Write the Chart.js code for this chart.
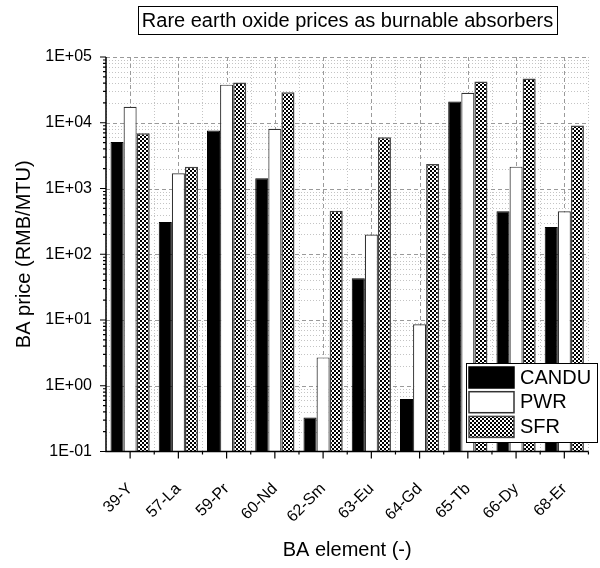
<!DOCTYPE html>
<html>
<head>
<meta charset="utf-8">
<script src="https://cdn.jsdelivr.net/npm/chart.js@4"></script>
<style>
  html, body { margin: 0; padding: 0; background: #fff; }
  #wrap { width: 600px; height: 568px; }
</style>
</head>
<body>
<div id="wrap"><canvas id="chart" width="600" height="568"></canvas></div>
<script>
// data (RMB/MTU, log axis)
const elements = ['39-Y', '57-La', '59-Pr', '60-Nd', '62-Sm', '63-Eu', '64-Gd', '65-Tb', '66-Dy', '68-Er'];
const candu = [5100, 310, 7600, 1430, 0.33, 43, 0.63, 21000, 450, 260];
const pwr = [17500, 1700, 38000, 8100, 2.7, 200, 8.6, 28500, 2150, 450];
const sfr = [6900, 2150, 41000, 29000, 460, 6000, 2350, 42500, 47000, 9100];
const seriesNames = ['CANDU', 'PWR', 'SFR'];
const yMin = 0.1, yMax = 1e5;

const FONT = 'Arial, "Liberation Sans", sans-serif';

// dense checker fill used for SFR
function makeChecker(){
    const c = document.createElement('canvas');
    c.width = 4; c.height = 4;
    const g = c.getContext('2d');
    g.fillStyle = '#fff';
    g.fillRect(0, 0, 4, 4);
    g.fillStyle = '#000';
    g.fillRect(0, 0, 2, 2);
    g.fillRect(2, 2, 2, 2);
    return g.createPattern(c, 'repeat');
}
const checker = makeChecker();

function sciLabel(v){
    const e = Math.round(Math.log10(v));
    if (Math.abs(Math.log10(v) - e) > 1e-6) return '';
    const sign = e < 0 ? '-' : '+';
    return '1E' + sign + String(Math.abs(e)).padStart(2, '0');
}

function px(v){ return Math.round(v) + 0.5; }

// grid: dashed majors, dotted minors
const gridPlugin = {
    id: 'gridLines',
    beforeDatasetsDraw(chart){
        const {ctx, chartArea: a, scales: {x, y}} = chart;
        ctx.save();
        ctx.lineWidth = 1;
        // minor
        ctx.strokeStyle = '#c4c4c4';
        ctx.setLineDash([1, 2]);
        ctx.beginPath();
        for (let i = 0; i <= elements.length; i++) {
            const xx = px((x.getPixelForValue(i - 0.5)));
            ctx.moveTo(xx, a.top); ctx.lineTo(xx, a.bottom);
        }
        for (let e = -1; e < 5; e++) {
            for (let m = 2; m <= 9; m++) {
                const yy = px(y.getPixelForValue(m * Math.pow(10, e)));
                ctx.moveTo(a.left, yy); ctx.lineTo(a.right, yy);
            }
        }
        ctx.stroke();
        // major
        ctx.strokeStyle = '#9a9a9a';
        ctx.setLineDash([4, 3]);
        ctx.beginPath();
        for (let i = 0; i < elements.length; i++) {
            const xx = px(x.getPixelForValue(i));
            ctx.moveTo(xx, a.top); ctx.lineTo(xx, a.bottom);
        }
        for (let e = 0; e <= 5; e++) {
            const yy = px(y.getPixelForValue(Math.pow(10, e)));
            ctx.moveTo(a.left, yy); ctx.lineTo(a.right, yy);
        }
        ctx.stroke();
        ctx.restore();
    },
    afterDatasetsDraw(chart){
        const {ctx, chartArea: a, scales: {x, y}} = chart;
        ctx.save();
        ctx.strokeStyle = '#000';
        ctx.lineWidth = 1.5;
        ctx.setLineDash([]);
        ctx.beginPath();
        ctx.moveTo(a.left, a.top); ctx.lineTo(a.left, a.bottom); ctx.lineTo(a.right, a.bottom);
        ctx.stroke();
        ctx.lineWidth = 1.2;
        ctx.beginPath();
        // y ticks
        for (let e = -1; e <= 5; e++) {
            const yy = y.getPixelForValue(Math.pow(10, e));
            ctx.moveTo(a.left - 6, yy); ctx.lineTo(a.left, yy);
            if (e < 5) {
                for (let m = 2; m <= 9; m++) {
                    const ym = y.getPixelForValue(m * Math.pow(10, e));
                    ctx.moveTo(a.left - 3, ym); ctx.lineTo(a.left, ym);
                }
            }
        }
        // x ticks
        for (let i = 0; i < elements.length; i++) {
            const xx = x.getPixelForValue(i);
            ctx.moveTo(xx, a.bottom); ctx.lineTo(xx, a.bottom + 7);
            const xb = x.getPixelForValue(i + 0.5);
            ctx.moveTo(xb, a.bottom); ctx.lineTo(xb, a.bottom + 3);
        }
        ctx.stroke();
        ctx.restore();
    }
};

// boxed title + legend inside the plot
const boxPlugin = {
    id: 'boxes',
    afterDraw(chart){
        const {ctx, chartArea: a} = chart;
        ctx.save();
        const title = 'Rare earth oxide prices as burnable absorbers';
        ctx.font = '20px ' + FONT;
        const tw = ctx.measureText(title).width;
        const cx = 347.5;
        ctx.fillStyle = '#fff';
        ctx.fillRect(cx - tw / 2 - 4, 6, tw + 8, 28);
        ctx.strokeStyle = '#000';
        ctx.lineWidth = 1;
        ctx.strokeRect(Math.round(cx - tw / 2 - 4) + 0.5, 6.5, Math.round(tw + 8), 28);
        ctx.fillStyle = '#000';
        ctx.textAlign = 'center';
        ctx.textBaseline = 'middle';
        ctx.fillText(title, cx, 21);

        // legend
        const lx = 466.5, ly = 363.5, lw = 131, lh = 79;
        ctx.fillStyle = '#fff';
        ctx.fillRect(lx, ly, lw, lh);
        ctx.strokeStyle = '#000';
        ctx.lineWidth = 1;
        ctx.strokeRect(lx, ly, lw, lh);
        ctx.textAlign = 'left';
        chart.data.datasets.forEach((ds, i) => {
            const sy = 367 + i * 24.7;
            ctx.fillStyle = ds.backgroundColor;
            ctx.fillRect(469, sy, 45, 21);
            ctx.strokeStyle = ds.borderColor;
            ctx.lineWidth = 1.5;
            ctx.strokeRect(469, sy, 45, 21);
            ctx.fillStyle = '#000';
            ctx.font = '20px ' + FONT;
            ctx.fillText(ds.label, 520, sy + 11);
        });
        ctx.restore();
    }
};

new Chart(document.getElementById('chart').getContext('2d'), {
    type: 'bar',
    data: {
        labels: elements,
        datasets: [
            { label: seriesNames[0], data: candu, backgroundColor: '#000', borderColor: '#000', borderWidth: 1 },
            { label: seriesNames[1], data: pwr, backgroundColor: '#fff', borderColor: '#333', borderWidth: 1.2 },
            { label: seriesNames[2], data: sfr, backgroundColor: checker, borderColor: '#444', borderWidth: 1.5 }
        ]
    },
    options: {
        responsive: false,
        animation: false,
        devicePixelRatio: 1,
        layout: { padding: { top: 57, right: 2, bottom: 0, left: 0 } },
        datasets: { bar: { categoryPercentage: 0.813, barPercentage: 1.0 } },
        plugins: {
            legend: { display: false },
            title: { display: false },
            tooltip: { enabled: false }
        },
        scales: {
            x: {
                offset: true,
                grid: { display: false, drawTicks: true, tickLength: 6 },
                border: { display: false },
                ticks: {
                    autoSkip: false, minRotation: 45, maxRotation: 45, padding: 22,
                    color: '#000', font: { family: FONT, size: 16 }
                },
                title: {
                    display: true, text: 'BA element (-)', color: '#000',
                    font: { family: FONT, size: 20 }, padding: { top: 0, bottom: 6 }
                },
                afterFit(scale){ scale.height = 116.5; }
            },
            y: {
                type: 'logarithmic',
                min: yMin, max: yMax,
                grid: { display: false, drawTicks: true, tickLength: 6 },
                border: { display: false },
                ticks: {
                    autoSkip: false, padding: 8, color: '#000',
                    font: { family: FONT, size: 16 },
                    callback: (v) => sciLabel(v)
                },
                title: {
                    display: true, text: 'BA price (RMB/MTU)', color: '#000',
                    font: { family: FONT, size: 20 }, padding: { top: 12, bottom: 0 }
                },
                afterFit(scale){ scale.width = 106; }
            }
        }
    },
    plugins: [gridPlugin, boxPlugin]
});
</script>
</body>
</html>
